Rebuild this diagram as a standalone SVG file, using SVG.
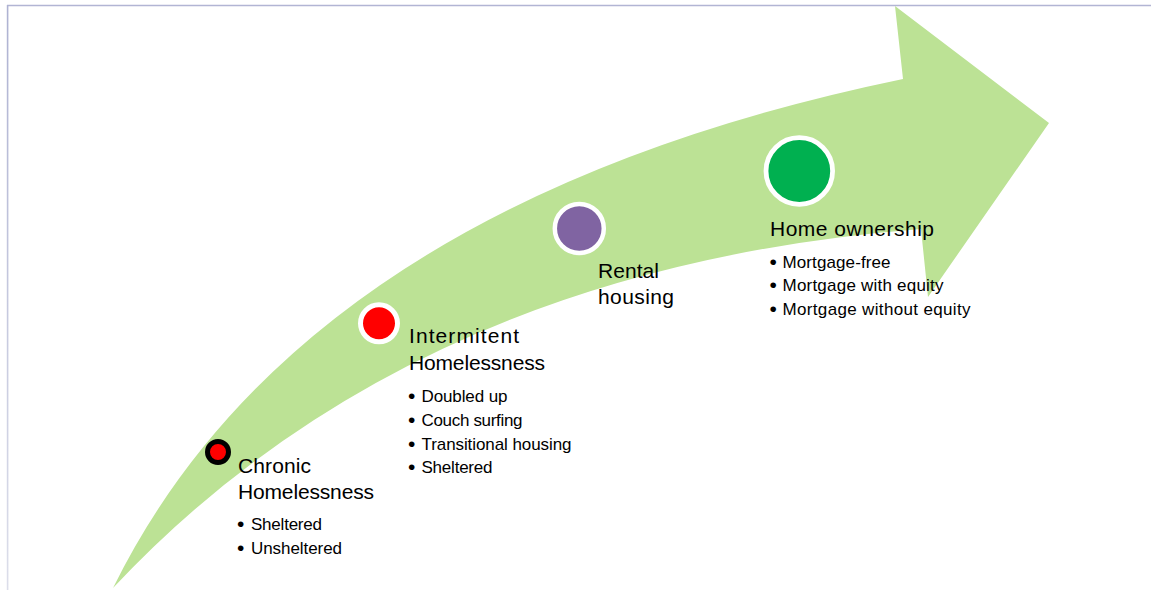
<svg xmlns="http://www.w3.org/2000/svg" width="1151" height="590" viewBox="0 0 1151 590">
<defs>
<linearGradient id="edge" x1="0" y1="0" x2="0" y2="1">
<stop offset="0" stop-color="#AEB2D2"/>
<stop offset="1" stop-color="#DCDEEA"/>
</linearGradient>
</defs>
<style>
.h{font-family:"Liberation Sans",Arial,sans-serif;font-size:21px;fill:#000}
.b{font-family:"Liberation Sans",Arial,sans-serif;font-size:17px;fill:#000}
.d{font-family:"Liberation Sans",Arial,sans-serif;font-size:21px;fill:#000}
</style>
<rect x="0" y="0" width="1151" height="590" fill="#fff"/>
<g id="frame">
<line x1="7" y1="5.5" x2="1151" y2="5.5" stroke="#B2B5D4" stroke-width="1.6"/>
<rect x="6.8" y="5" width="1.6" height="585" fill="url(#edge)"/>
</g>
<g id="connectors">
<path id="arrow" d="M113,588 Q303,203 903,79 L895,6 L1049,123 L928,297 L921,229 Q412,269 113,588 Z" fill="#BCE295"/>
</g>
<g id="node-chronic">
<circle cx="218" cy="452" r="10.5" fill="#FF0000" stroke="#000" stroke-width="5"/>
<text class="h" x="238" y="472.7" textLength="73">Chronic</text>
<text class="h" x="238" y="498.5" textLength="136">Homelessness</text>
<text class="d" x="237" y="531">•</text>
<text class="b" x="251" y="530" textLength="71">Sheltered</text>
<text class="d" x="237" y="554.5">•</text>
<text class="b" x="251" y="553.5" textLength="91">Unsheltered</text>
</g>
<g id="node-intermitent">
<circle cx="379" cy="323.3" r="18.5" fill="#FF0000" stroke="#fff" stroke-width="5"/>
<text class="h" x="409" y="343.3" textLength="110">Intermitent</text>
<text class="h" x="409" y="370" textLength="136">Homelessness</text>
<text class="d" x="408" y="402.7">•</text>
<text class="b" x="421.5" y="401.7" textLength="86">Doubled up</text>
<text class="d" x="408" y="426.7">•</text>
<text class="b" x="421.5" y="425.7" textLength="101">Couch surfing</text>
<text class="d" x="408" y="450.5">•</text>
<text class="b" x="421.5" y="449.5" textLength="150">Transitional housing</text>
<text class="d" x="408" y="474.4">•</text>
<text class="b" x="421.5" y="473.4" textLength="71">Sheltered</text>
</g>
<g id="node-rental">
<circle cx="579.3" cy="228.5" r="24.5" fill="#8064A2" stroke="#fff" stroke-width="4.5"/>
<text class="h" x="598" y="278.3" textLength="61">Rental</text>
<text class="h" x="598" y="304" textLength="76">housing</text>
</g>
<g id="node-home">
<circle cx="799.3" cy="171" r="33.3" fill="#00B050" stroke="#fff" stroke-width="4.8"/>
<text class="h" x="770" y="236" textLength="164">Home ownership</text>
<text class="d" x="769.5" y="268.5">•</text>
<text class="b" x="782.5" y="267.5" textLength="108">Mortgage-free</text>
<text class="d" x="769.5" y="292.3">•</text>
<text class="b" x="782.5" y="291.3" textLength="161">Mortgage with equity</text>
<text class="d" x="769.5" y="316">•</text>
<text class="b" x="782.5" y="315" textLength="188">Mortgage without equity</text>
</g>
</svg>
